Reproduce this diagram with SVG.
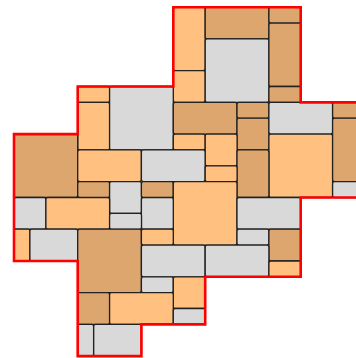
<svg xmlns="http://www.w3.org/2000/svg" width="356" height="358" viewBox="0 0 356 358">
<style>
.tile{stroke:#222;stroke-width:1.3}
.L{fill:#ffc080}
.T{fill:#dca66e}
.G{fill:#d9d9d9}
.outline{fill:none;stroke:#ff0000;stroke-width:2.6;stroke-linejoin:miter}
</style>
<g id="tiles">
<rect class="tile L" x="173.3" y="7.2" width="31.9" height="63.4" rx="2"/>
<rect class="tile L" x="173.3" y="70.6" width="31.9" height="31.7" rx="2"/>
<rect class="tile T" x="205.2" y="7.2" width="63.7" height="31.7" rx="2"/>
<rect class="tile G" x="205.2" y="38.9" width="63.7" height="63.4" rx="2"/>
<rect class="tile T" x="268.9" y="7.2" width="31.9" height="15.9" rx="2"/>
<rect class="tile T" x="268.9" y="23.1" width="31.9" height="63.4" rx="2"/>
<rect class="tile T" x="268.9" y="86.5" width="31.9" height="15.9" rx="2"/>
<rect class="tile L" x="77.7" y="86.5" width="31.9" height="15.9" rx="2"/>
<rect class="tile L" x="77.7" y="102.4" width="31.9" height="47.6" rx="2"/>
<rect class="tile G" x="109.6" y="86.5" width="63.7" height="63.4" rx="2"/>
<rect class="tile T" x="173.3" y="102.4" width="63.7" height="31.7" rx="2"/>
<rect class="tile T" x="237" y="102.4" width="31.9" height="15.9" rx="2"/>
<rect class="tile T" x="237" y="118.2" width="31.9" height="31.7" rx="2"/>
<rect class="tile G" x="268.9" y="102.4" width="63.7" height="31.7" rx="2"/>
<rect class="tile T" x="332.6" y="102.4" width="31.9" height="15.9" rx="2"/>
<rect class="tile T" x="14" y="134.1" width="63.7" height="63.4" rx="2"/>
<rect class="tile L" x="173.3" y="134.1" width="31.9" height="15.9" rx="2"/>
<rect class="tile L" x="205.2" y="134.1" width="31.9" height="31.7" rx="2"/>
<rect class="tile L" x="268.9" y="134.1" width="63.7" height="63.4" rx="2"/>
<rect class="tile T" x="332.6" y="118.2" width="31.9" height="63.4" rx="2"/>
<rect class="tile L" x="77.7" y="149.9" width="63.7" height="31.7" rx="2"/>
<rect class="tile G" x="141.4" y="149.9" width="63.7" height="31.7" rx="2"/>
<rect class="tile T" x="237" y="149.9" width="31.9" height="47.6" rx="2"/>
<rect class="tile L" x="205.2" y="165.8" width="31.9" height="15.9" rx="2"/>
<rect class="tile T" x="77.7" y="181.7" width="31.9" height="15.9" rx="2"/>
<rect class="tile G" x="109.6" y="181.7" width="31.9" height="31.7" rx="2"/>
<rect class="tile T" x="141.4" y="181.7" width="31.9" height="15.9" rx="2"/>
<rect class="tile L" x="173.3" y="181.7" width="63.7" height="63.4" rx="2"/>
<rect class="tile G" x="332.6" y="181.7" width="31.9" height="15.9" rx="2"/>
<rect class="tile G" x="14" y="197.5" width="31.9" height="31.7" rx="2"/>
<rect class="tile L" x="45.9" y="197.5" width="63.7" height="31.7" rx="2"/>
<rect class="tile G" x="141.4" y="197.5" width="31.9" height="31.7" rx="2"/>
<rect class="tile G" x="237" y="197.5" width="63.7" height="31.7" rx="2"/>
<rect class="tile G" x="109.6" y="213.4" width="31.9" height="15.9" rx="2"/>
<rect class="tile L" x="14" y="229.2" width="15.9" height="31.7" rx="2"/>
<rect class="tile G" x="29.9" y="229.2" width="47.8" height="31.7" rx="2"/>
<rect class="tile T" x="77.7" y="229.2" width="63.7" height="63.4" rx="2"/>
<rect class="tile L" x="141.4" y="229.2" width="31.9" height="15.9" rx="2"/>
<rect class="tile G" x="237" y="229.2" width="31.9" height="15.9" rx="2"/>
<rect class="tile T" x="268.9" y="229.2" width="31.9" height="31.7" rx="2"/>
<rect class="tile G" x="141.4" y="245.1" width="63.7" height="31.7" rx="2"/>
<rect class="tile G" x="205.2" y="245.1" width="63.7" height="31.7" rx="2"/>
<rect class="tile L" x="268.9" y="261" width="31.9" height="15.9" rx="2"/>
<rect class="tile G" x="141.4" y="276.8" width="31.9" height="15.9" rx="2"/>
<rect class="tile L" x="173.3" y="276.8" width="31.9" height="31.7" rx="2"/>
<rect class="tile T" x="77.7" y="292.7" width="31.9" height="31.7" rx="2"/>
<rect class="tile L" x="109.6" y="292.7" width="63.7" height="31.7" rx="2"/>
<rect class="tile G" x="173.3" y="308.5" width="31.9" height="15.9" rx="2"/>
<rect class="tile G" x="77.7" y="324.4" width="15.9" height="31.7" rx="2"/>
<rect class="tile G" x="93.7" y="324.4" width="47.8" height="31.7" rx="2"/>
</g>
<g id="outline">
<path class="outline" d="M370 197.5 H300.7 V276.8 H205.2 V324.4 H141.4 V356.1 H77.7 V261 H14 V134.1 H77.7 V86.5 H173.3 V7.2 H300.7 V102.4 H370"/>
</g>
</svg>
